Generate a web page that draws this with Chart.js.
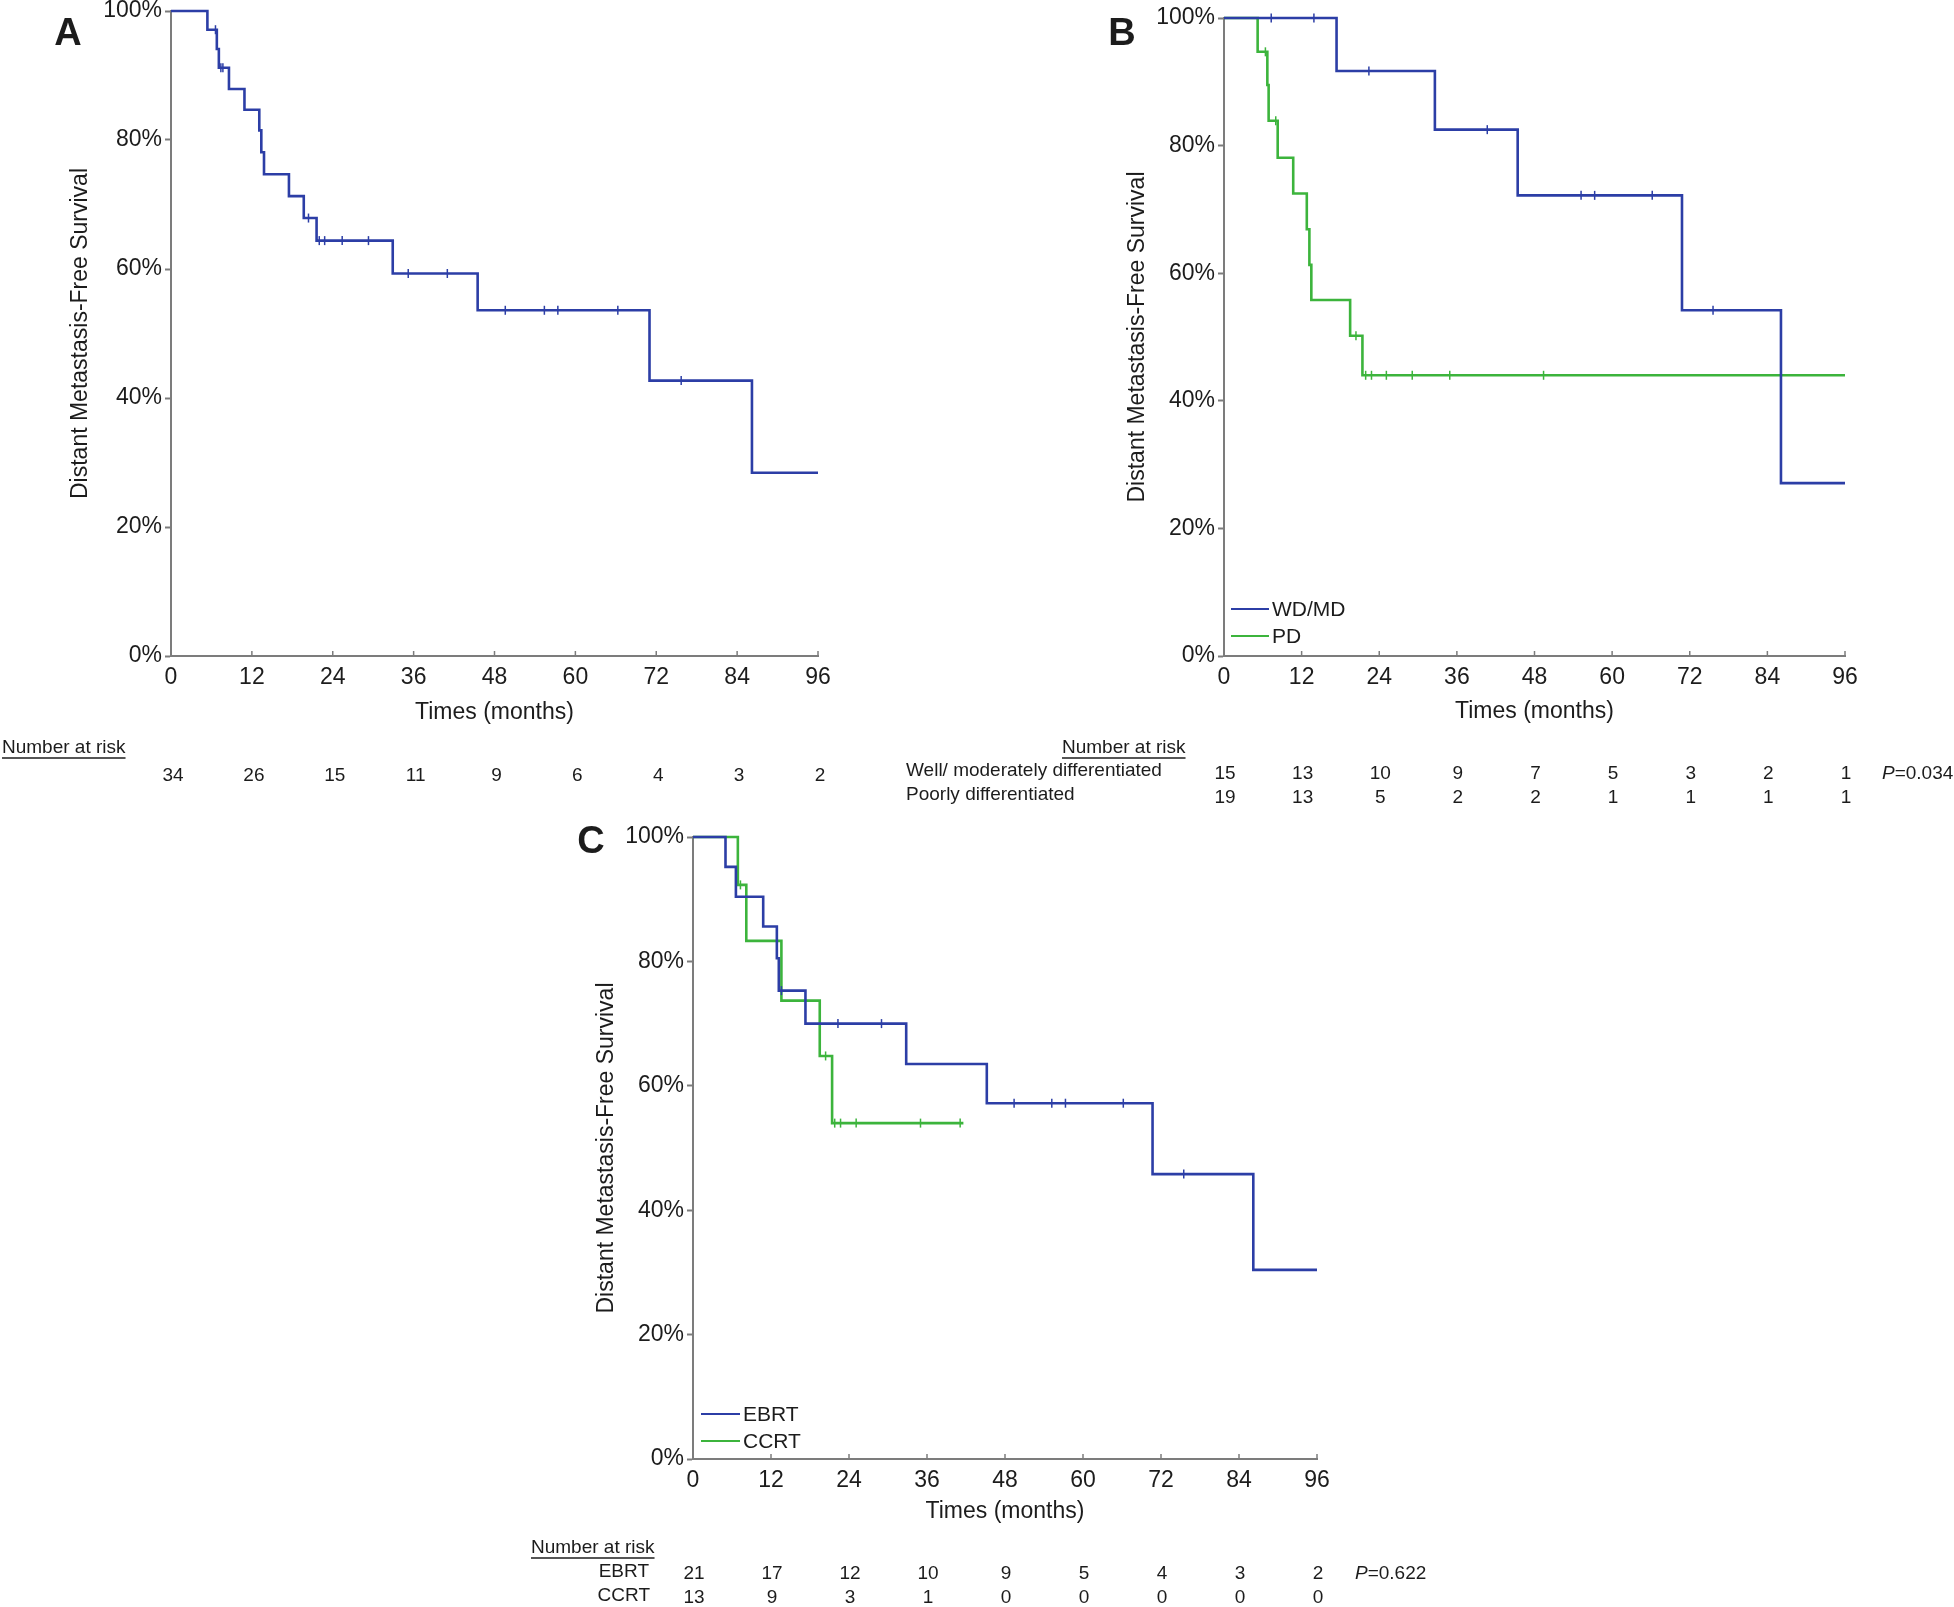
<!DOCTYPE html>
<html><head><meta charset="utf-8">
<script src="https://cdn.jsdelivr.net/npm/chart.js@4.4.1/dist/chart.umd.min.js"></script>
<style>
html,body{margin:0;padding:0;background:#fff;width:1954px;height:1607px;overflow:hidden;position:relative}
canvas{position:absolute}
</style></head><body>
<canvas id="cA" width="880" height="820" style="left:0px;top:-10px"></canvas>
<canvas id="cB" width="1074" height="820" style="left:880px;top:-10px"></canvas>
<canvas id="cC" width="1000" height="807" style="left:440px;top:800px"></canvas>
<script>
// ---- shared ticks ----
const xTicks = [0, 12, 24, 36, 48, 60, 72, 84, 96];
const yTicks = [0, 20, 40, 60, 80, 100];

// ---- Panel A: all patients ----
const aTimes  = [0, 5.4, 6.8, 7.1, 8.6, 10.9, 13.1, 13.4, 13.8, 17.5, 19.7, 21.6, 32.9, 45.5, 71.0, 86.2, 96];
const aSurv   = [100, 97.1, 94.1, 91.2, 87.9, 84.7, 81.5, 78.1, 74.7, 71.3, 67.9, 64.4, 59.3, 53.6, 42.7, 28.4, 28.4];
const aCensor = [6.6, 7.4, 7.7, 20.4, 22.0, 22.8, 25.4, 29.3, 35.2, 41.0, 49.6, 55.4, 57.4, 66.3, 75.7];
const aRisk   = [34, 26, 15, 11, 9, 6, 4, 3, 2];

// ---- Panel B: differentiation ----
const bWdTimes  = [0, 17.4, 32.6, 45.4, 70.8, 86.1, 96];
const bWdSurv   = [100, 91.7, 82.5, 72.2, 54.2, 27.1, 27.1];
const bWdCensor = [7.3, 13.9, 22.4, 40.7, 55.2, 57.3, 66.2, 75.6];
const bPdTimes  = [0, 5.2, 6.7, 6.9, 8.3, 10.7, 12.8, 13.2, 13.5, 19.5, 21.4, 96];
const bPdSurv   = [100, 94.7, 89.5, 83.9, 78.1, 72.5, 66.9, 61.3, 55.8, 50.2, 44.0, 44.0];
const bPdCensor = [6.4, 8.0, 20.4, 21.9, 22.8, 25.1, 29.1, 34.9, 49.4];
const bRiskWd   = [15, 13, 10, 9, 7, 5, 3, 2, 1];
const bRiskPd   = [19, 13, 5, 2, 2, 1, 1, 1, 1];

// ---- Panel C: treatment ----
const cEbTimes  = [0, 5.0, 6.6, 10.8, 12.9, 13.2, 17.3, 32.8, 45.2, 70.7, 86.2, 96];
const cEbSurv   = [100, 95.2, 90.4, 85.6, 80.5, 75.3, 70.0, 63.5, 57.2, 45.8, 30.4, 30.4];
const cEbCensor = [13.6, 22.3, 29.0, 49.4, 55.2, 57.3, 66.2, 75.5];
const cCcTimes  = [0, 6.9, 8.2, 13.6, 19.5, 21.4, 41.6];
const cCcSurv   = [100, 92.3, 83.3, 73.7, 64.8, 54.0, 54.0];
const cCcCensor = [7.3, 20.4, 21.8, 22.7, 25.1, 35.0, 41.1];
const cRiskEb   = [21, 17, 12, 10, 9, 5, 4, 3, 2];
const cRiskCc   = [13, 9, 3, 1, 0, 0, 0, 0, 0];

const BLUE = '#2c3ea6', GREEN = '#3cb43c', AXIS = '#7c7c7c', INK = '#1c1c1c';
const FONT = 'Arial, "Liberation Sans", Helvetica, sans-serif';

function survAt(times, surv, t) {
  let v = surv[0];
  for (let i = 0; i < times.length; i++) if (times[i] <= t) v = surv[i];
  return v;
}
function curve(label, times, surv, color) {
  return { type: 'line', label, data: times.map((t, i) => ({ x: t, y: surv[i] })),
    stepped: 'before', borderColor: color, borderWidth: 2.6, pointRadius: 0, fill: false, clip: 8 };
}
function censor(label, times, surv, cens, color) {
  return { type: 'scatter', label, data: cens.map(t => ({ x: t, y: survAt(times, surv, t) })),
    pointStyle: 'line', rotation: 90, pointRadius: 4.5, borderColor: color, backgroundColor: color,
    pointBorderWidth: 1.5, borderWidth: 1.5, showLine: false, clip: 8 };
}

function makeAnnot(cfg) {
  return {
    id: 'annot_' + cfg.id,
    afterDraw(chart) {
      const ctx = chart.ctx, ox = cfg.ox, oy = cfg.oy;
      const xs = chart.scales.x, area = chart.chartArea;
      ctx.save();
      // small inward x tick marks
      ctx.strokeStyle = AXIS; ctx.lineWidth = 1.5;
      xTicks.forEach(v => {
        const px = xs.getPixelForValue(v);
        ctx.beginPath(); ctx.moveTo(px, area.bottom); ctx.lineTo(px, area.bottom - 5); ctx.stroke();
      });
      ctx.textBaseline = 'middle';
      ctx.fillStyle = INK;
      (cfg.texts || []).forEach(t => {
        ctx.font = t.font;
        ctx.textAlign = t.align || 'left';
        ctx.fillStyle = INK;
        ctx.fillText(t.t, t.x - ox, t.y - oy);
        if (t.underline) {
          const w = ctx.measureText(t.t).width;
          const x0 = (t.align === 'right') ? t.x - ox - w : t.x - ox;
          ctx.strokeStyle = INK; ctx.lineWidth = 1.3;
          ctx.beginPath(); ctx.moveTo(x0, t.y - oy + 10); ctx.lineTo(x0 + w, t.y - oy + 10); ctx.stroke();
        }
      });
      (cfg.legend || []).forEach(l => {
        ctx.strokeStyle = l.color; ctx.lineWidth = 2;
        ctx.beginPath(); ctx.moveTo(l.x1 - ox, l.y - oy); ctx.lineTo(l.x2 - ox, l.y - oy); ctx.stroke();
        ctx.font = '21px ' + FONT; ctx.textAlign = 'left'; ctx.fillStyle = INK;
        ctx.fillText(l.label, l.x2 + 3 - ox, l.y - oy + 1);
      });
      (cfg.rows || []).forEach(r => {
        ctx.font = '19px ' + FONT; ctx.textAlign = 'center'; ctx.fillStyle = INK;
        r.values.forEach((v, i) => {
          const px = xs.getPixelForValue(xTicks[i]);
          ctx.fillText(String(v), px + (r.dx || 0), r.y - oy);
        });
      });
      if (cfg.p) {
        ctx.textAlign = 'left';
        ctx.font = 'italic 19px ' + FONT;
        ctx.fillText('P', cfg.p.x - ox, cfg.p.y - oy);
        const w = ctx.measureText('P').width;
        ctx.font = '19px ' + FONT;
        ctx.fillText(cfg.p.text, cfg.p.x - ox + w, cfg.p.y - oy);
      }
      ctx.restore();
    }
  };
}

function makePanel(id, g, datasets, annot) {
  // g: canvas offset (ox, oy), size (W, H), plot area in page coords (l, t, r, b),
  //    y title center x (ytx), x title center y (xty)
  const L = g.l - g.ox, T = g.t - g.oy, R = g.r - g.ox, B = g.b - g.oy;
  const XH = 80;
  const titleLH = 23 * 1.2;
  const ytPad = (g.ytx - g.ox) - titleLH / 2;
  const xtPad = (B + XH) - titleLH / 2 - (g.xty - g.oy);
  annot.ox = g.ox; annot.oy = g.oy; annot.id = id;
  return new Chart(document.getElementById(id), {
    type: 'line',
    data: { datasets },
    options: {
      responsive: false, animation: false, events: [],
      layout: { padding: { left: 0, top: T, right: g.W - R, bottom: g.H - B - XH } },
      plugins: { legend: { display: false }, tooltip: { enabled: false } },
      scales: {
        x: {
          type: 'linear', min: 0, max: 96,
          afterFit(s) { s.height = XH; },
          afterBuildTicks(s) { s.ticks = xTicks.map(v => ({ value: v })); },
          ticks: { color: INK, font: { family: FONT, size: 23 }, padding: 8, maxRotation: 0, autoSkip: false },
          grid: { drawOnChartArea: false, drawTicks: false },
          border: { display: true, color: AXIS, width: 2 },
          title: { display: true, text: 'Times (months)', color: INK, font: { family: FONT, size: 23 },
                   padding: { top: 0, bottom: xtPad } }
        },
        y: {
          type: 'linear', min: 0, max: 100,
          afterFit(s) { s.width = L; },
          afterBuildTicks(s) { s.ticks = yTicks.map(v => ({ value: v })); },
          ticks: { color: INK, font: { family: FONT, size: 23 }, padding: 3, callback: v => v + '%' },
          grid: { drawOnChartArea: false, drawTicks: true, tickLength: 6, color: AXIS, tickWidth: 2 },
          border: { display: true, color: AXIS, width: 2 },
          title: { display: true, text: 'Distant Metastasis-Free Survival', color: INK,
                   font: { family: FONT, size: 23 }, padding: { top: ytPad, bottom: 0 } }
        }
      }
    },
    plugins: [makeAnnot(annot)]
  });
}

const LETTER = 'bold 38px ' + FONT;
const SMALL = '19px ' + FONT;

makePanel('cA',
  { ox: 0, oy: -10, W: 880, H: 820, l: 171, t: 11, r: 818, b: 656, ytx: 81, xty: 713 },
  [ curve('All', aTimes, aSurv, BLUE), censor('All censored', aTimes, aSurv, aCensor, BLUE) ],
  { texts: [
      { t: 'A', x: 68, y: 35, font: LETTER, align: 'center' },
      { t: 'Number at risk', x: 2, y: 748, font: SMALL, underline: true }
    ],
    rows: [ { values: aRisk, y: 776, dx: 2 } ] });

makePanel('cB',
  { ox: 880, oy: -10, W: 1074, H: 820, l: 1224, t: 18, r: 1845, b: 656, ytx: 1138, xty: 712 },
  [ curve('WD/MD', bWdTimes, bWdSurv, BLUE), censor('WD/MD censored', bWdTimes, bWdSurv, bWdCensor, BLUE),
    curve('PD', bPdTimes, bPdSurv, GREEN), censor('PD censored', bPdTimes, bPdSurv, bPdCensor, GREEN) ],
  { texts: [
      { t: 'B', x: 1122, y: 35, font: LETTER, align: 'center' },
      { t: 'Number at risk', x: 1062, y: 748, font: SMALL, underline: true },
      { t: 'Well/ moderately differentiated', x: 906, y: 771, font: SMALL },
      { t: 'Poorly differentiated', x: 906, y: 795, font: SMALL }
    ],
    legend: [ { label: 'WD/MD', color: BLUE, x1: 1231, x2: 1269, y: 609 },
              { label: 'PD', color: GREEN, x1: 1231, x2: 1269, y: 636 } ],
    rows: [ { values: bRiskWd, y: 774, dx: 1 }, { values: bRiskPd, y: 798, dx: 1 } ],
    p: { x: 1882, y: 774, text: '=0.034' } });

makePanel('cC',
  { ox: 440, oy: 800, W: 1000, H: 807, l: 693, t: 837, r: 1317, b: 1459, ytx: 607, xty: 1512 },
  [ curve('EBRT', cEbTimes, cEbSurv, BLUE), censor('EBRT censored', cEbTimes, cEbSurv, cEbCensor, BLUE),
    curve('CCRT', cCcTimes, cCcSurv, GREEN), censor('CCRT censored', cCcTimes, cCcSurv, cCcCensor, GREEN) ],
  { texts: [
      { t: 'C', x: 591, y: 843, font: LETTER, align: 'center' },
      { t: 'Number at risk', x: 531, y: 1548, font: SMALL, underline: true },
      { t: 'EBRT', x: 649, y: 1572, font: SMALL, align: 'right' },
      { t: 'CCRT', x: 650, y: 1596, font: SMALL, align: 'right' }
    ],
    legend: [ { label: 'EBRT', color: BLUE, x1: 701, x2: 740, y: 1414 },
              { label: 'CCRT', color: GREEN, x1: 701, x2: 740, y: 1441 } ],
    rows: [ { values: cRiskEb, y: 1574, dx: 1 }, { values: cRiskCc, y: 1598, dx: 1 } ],
    p: { x: 1355, y: 1574, text: '=0.622' } });
</script>
</body></html>
